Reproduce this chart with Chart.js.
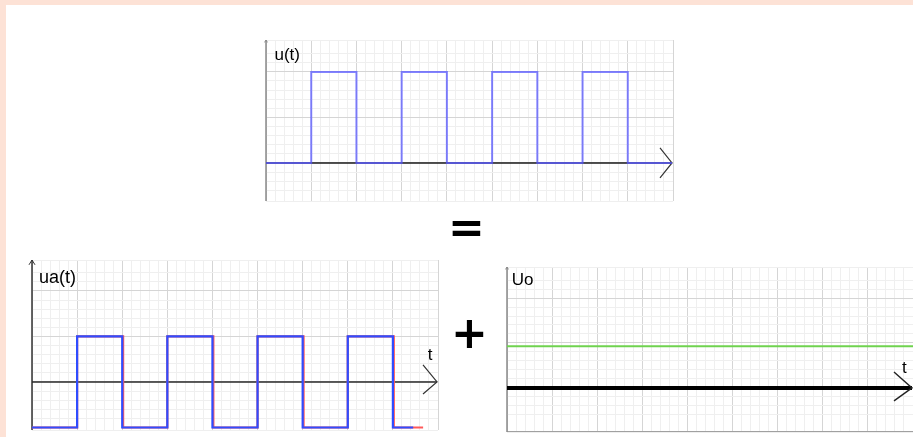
<!DOCTYPE html>
<html>
<head>
<meta charset="utf-8">
<script src="https://cdn.jsdelivr.net/npm/chart.js@4/dist/chart.umd.min.js"></script>
<style>
  html, body { margin: 0; padding: 0; background: #ffffff; }
  #page { position: relative; width: 913px; height: 437px; overflow: hidden; background: #ffffff; }
  .strip { position: absolute; background: #fde2d6; }
  canvas { position: absolute; }
  .op { position: absolute; font-family: "DejaVu Sans", sans-serif; font-weight: bold; font-size: 44px; line-height: 44px; color: #000; }
</style>
</head>
<body>
<div id="page">
  <div class="strip" style="left:0;top:0;width:913px;height:5px;"></div>
  <div class="strip" style="left:0;top:0;width:6px;height:437px;"></div>
  <canvas id="cTop"></canvas>
  <canvas id="cLeft"></canvas>
  <canvas id="cRight"></canvas>
  <div class="op" style="left:448px;top:205px;">=</div>
  <div class="op" style="left:451px;top:311px;">+</div>
</div>
<script>
// ---------- data ----------
// top chart u(t): rectangular pulses between 0 and 2
const uTimes  = [0, 1, 1, 2, 2, 3, 3, 4, 4, 5, 5, 6, 6, 7, 7, 8, 8, 8.98];
const uValues = [0, 0, 2, 2, 0, 0, 2, 2, 0, 0, 2, 2, 0, 0, 2, 2, 0, 0];
// bottom-left ua(t): alternating part between -1 and +1 (blue), red trace underneath
const uaTimes  = [0, 1, 1, 2, 2, 3, 3, 4, 4, 5, 5, 6, 6, 7, 7, 8, 8, 8.45];
const uaValues = [-1, -1, 1, 1, -1, -1, 1, 1, -1, -1, 1, 1, -1, -1, 1, 1, -1, -1];
const uaRedTimes  = [0, 1, 1, 2.02, 2.02, 3, 3, 4.02, 4.02, 5, 5, 6.02, 6.02, 7, 7, 8.02, 8.02, 8.67];
const uaRedValues = [-1, -1, 1, 1, -1, -1, 1, 1, -1, -1, 1, 1, -1, -1, 1, 1, -1, -1];
// bottom-right U0: constant level
const u0Times  = [0, 9];
const u0Values = [0.93, 0.93];
// axis labels
const labelTop = "u(t)";
const labelLeft = "ua(t)";
const labelRight = "Uo";
const labelT = "t";

function pts(xs, ys) { return xs.map((x, i) => ({ x: x, y: ys[i] })); }

function gridColor(ctx) {
  const v = ctx.tick.value;
  return Math.abs(v - Math.round(v)) < 1e-6 ? '#d5d5d5' : '#efefef';
}

const decoPlugin = {
  id: 'deco',
  beforeDatasetsDraw(chart, args, o) {
    const { ctx, chartArea: a, scales: { y } } = chart;
    const y0 = y.getPixelForValue(0);
    ctx.save();
    ctx.lineCap = 'butt';
    if (o.bottomLine) {
      ctx.strokeStyle = o.bottomLine; ctx.lineWidth = 1;
      ctx.beginPath(); ctx.moveTo(a.left, a.bottom - 0.5); ctx.lineTo(a.right, a.bottom - 0.5); ctx.stroke();
    }
    // y axis
    ctx.strokeStyle = o.yColor; ctx.lineWidth = o.yWidth;
    ctx.beginPath(); ctx.moveTo(a.left, a.bottom); ctx.lineTo(a.left, a.top); ctx.stroke();
    ctx.lineWidth = 1;
    ctx.beginPath();
    ctx.moveTo(a.left - o.yArrow, a.top + o.yArrow * 1.6);
    ctx.lineTo(a.left, a.top);
    ctx.lineTo(a.left + o.yArrow, a.top + o.yArrow * 1.6);
    ctx.stroke();
    // x axis
    ctx.strokeStyle = o.xColor; ctx.lineWidth = o.xWidth;
    ctx.beginPath(); ctx.moveTo(a.left, y0); ctx.lineTo(a.right - 1, y0); ctx.stroke();
    ctx.strokeStyle = o.arrowColor; ctx.lineWidth = o.arrowWidth;
    ctx.beginPath();
    ctx.moveTo(a.right - o.aDx, y0 - o.aUp);
    ctx.lineTo(a.right - 1, y0);
    ctx.lineTo(a.right - o.aDx, y0 + o.aDown);
    ctx.stroke();
    ctx.restore();
  },
  afterDatasetsDraw(chart, args, o) {
    const { ctx, chartArea: a, scales: { y } } = chart;
    const y0 = y.getPixelForValue(0);
    ctx.save();
    ctx.fillStyle = '#000';
    ctx.textBaseline = 'alphabetic';
    ctx.textAlign = 'left';
    ctx.font = o.labelFont;
    ctx.fillText(o.label, a.left + o.labelDx, a.top + o.labelDy);
    if (o.tLabel) {
      ctx.font = o.tFont;
      ctx.fillText(o.tLabel, a.right + o.tDx, y0 + o.tDy);
    }
    ctx.restore();
  }
};
Chart.register(decoPlugin);

function makeChart(id, box, yMin, yMax, datasets, deco) {
  const pad = 6;
  const el = document.getElementById(id);
  const w = box.w + pad * 2, h = box.h + pad * 2;
  el.width = w; el.height = h;
  el.style.left = (box.x - pad) + 'px';
  el.style.top = (box.y - pad) + 'px';
  el.style.width = w + 'px'; el.style.height = h + 'px';
  const axis = (min, max) => ({
    type: 'linear', min: min, max: max,
    ticks: { display: false, stepSize: 0.2 },
    grid: { color: gridColor, lineWidth: 1, drawTicks: false },
    border: { display: false }
  });
  return new Chart(el, {
    type: 'line',
    data: { datasets: datasets },
    options: {
      responsive: false, animation: false, devicePixelRatio: 1,
      layout: { padding: pad },
      plugins: { legend: { display: false }, tooltip: { enabled: false }, deco: deco },
      elements: { point: { radius: 0 }, line: { tension: 0 } },
      scales: { x: axis(0, 9), y: axis(yMin, yMax) }
    }
  });
}

const LF = '"Liberation Sans", Arial, sans-serif';

makeChart('cTop', { x: 266, y: 40, w: 407, h: 161 }, -0.835, 2.70, [
  { data: pts(uTimes, uValues), borderColor: 'rgba(90,90,255,0.75)', borderWidth: 2, fill: false }
], {
  yColor: '#8a8a8a', yWidth: 1.5, yArrow: 1.5,
  xColor: '#1a1a1a', xWidth: 1.6, arrowColor: '#333', arrowWidth: 1.2,
  aDx: 13, aUp: 15, aDown: 15,
  label: labelTop, labelFont: '17px ' + LF, labelDx: 8.5, labelDy: 19.5
});

makeChart('cLeft', { x: 32, y: 260, w: 406, h: 170 }, -1.055, 2.68, [
  { data: pts(uaTimes, uaValues), borderColor: '#2f4dff', borderWidth: 2.2, fill: false, order: 0 },
  { data: pts(uaRedTimes, uaRedValues), borderColor: '#ff5a5a', borderWidth: 2.2, fill: false, order: 1 }
], {
  yColor: '#333', yWidth: 1.5, yArrow: 3,
  xColor: '#2a2a2a', xWidth: 1.3, arrowColor: '#333', arrowWidth: 1.2,
  aDx: 15, aUp: 17, aDown: 12,
  label: labelLeft, labelFont: '18px ' + LF, labelDx: 7, labelDy: 22.5,
  tLabel: labelT, tFont: '17px ' + LF, tDx: -10.3, tDy: -22
});

makeChart('cRight', { x: 507, y: 267, w: 406, h: 165 }, -0.98, 2.69, [
  { data: pts(u0Times, u0Values), borderColor: '#6fd34f', borderWidth: 2, fill: false }
], {
  yColor: '#8a8a8a', yWidth: 1.5, yArrow: 1.5, bottomLine: '#a0a0a0',
  xColor: '#000', xWidth: 4, arrowColor: '#222', arrowWidth: 1.4,
  aDx: 19, aUp: 16, aDown: 13,
  label: labelRight, labelFont: '17px ' + LF, labelDx: 4.7, labelDy: 18,
  tLabel: labelT, tFont: '17px ' + LF, tDx: -11, tDy: -15
});
</script>
</body>
</html>
